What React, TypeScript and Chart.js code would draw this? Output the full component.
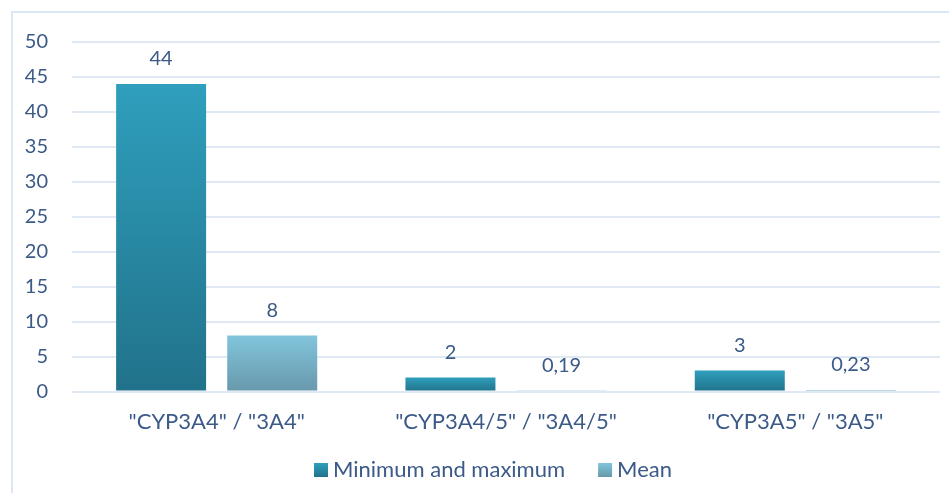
import React, { useEffect, useRef } from "react";
import { Chart, registerables } from "chart.js";

Chart.register(...registerables);

const categories = ['"CYP3A4" / "3A4"', '"CYP3A4/5" / "3A4/5"', '"CYP3A5" / "3A5"'];
const seriesNames = ["Minimum and maximum", "Mean"];
const minMaxValues = [44, 2, 3];
const meanValues = [8, 0.19, 0.23];
const yTicks = [0, 50, 5]; // min, max, step

const TEXT = "#3B5A88";
const GRID = "#DFE8F3";
const FONT = "Lato";
const SERIES_COLORS: [string, string][] = [
  ["#2F9FBD", "#21728A"],
  ["#82C5DC", "#6898AB"],
];

function barGradient(top: string, bottom: string) {
  return (ctx: any) => {
    const chart = ctx.chart;
    const y = chart.scales?.y;
    if (!y || ctx.type !== "data") return top;
    const y1 = y.getPixelForValue(ctx.raw as number);
    const y0 = y.getPixelForValue(0);
    if (!isFinite(y1) || !isFinite(y0) || y0 - y1 < 0.5) return bottom;
    const g = chart.ctx.createLinearGradient(0, y1, 0, y0);
    g.addColorStop(0, top);
    g.addColorStop(1, bottom);
    return g;
  };
}

// Frame around the whole chart
const framePlugin = {
  id: "frame",
  beforeDraw(chart: any) {
    const c = chart.ctx;
    c.save();
    c.strokeStyle = "#DCE7F4";
    c.lineWidth = 2;
    c.strokeRect(12, 12, chart.width + 20, chart.height + 20);
    c.restore();
  },
};

// Value labels above each bar, decimal comma
const valueLabels = {
  id: "valueLabels",
  afterDatasetsDraw(chart: any) {
    const c = chart.ctx;
    c.save();
    c.fillStyle = TEXT;
    c.font = `20px ${FONT}`;
    c.textAlign = "center";
    c.textBaseline = "middle";
    chart.data.datasets.forEach((ds: any, di: number) => {
      const meta = chart.getDatasetMeta(di);
      meta.data.forEach((el: any, i: number) => {
        const text = String(ds.data[i]).replace(".", ",");
        c.fillText(text, el.x, el.y - 25);
      });
    });
    c.restore();
  },
};

// Legend row below the category labels
const legendRow = {
  id: "legendRow",
  afterDraw(chart: any) {
    const c = chart.ctx;
    c.save();
    c.font = `22px ${FONT}`;
    c.textBaseline = "middle";
    const box = 14;
    const gapText = 5;
    const gapItem = 33;
    const widths = seriesNames.map((n) => box + gapText + c.measureText(n).width);
    const total = widths.reduce((a, b) => a + b, 0) + gapItem * (widths.length - 1);
    const center = 493;
    const cy = 470;
    let x = center - total / 2;
    seriesNames.forEach((name, i) => {
      const g = c.createLinearGradient(0, cy - box / 2, 0, cy + box / 2);
      g.addColorStop(0, SERIES_COLORS[i][0]);
      g.addColorStop(1, SERIES_COLORS[i][1]);
      c.fillStyle = g;
      c.fillRect(x, cy - box / 2, box, box);
      c.fillStyle = TEXT;
      c.textAlign = "left";
      c.fillText(name, x + box + gapText, cy);
      x += widths[i] + gapItem;
    });
    c.restore();
  },
};

export default function App() {
  const ref = useRef<HTMLCanvasElement | null>(null);

  useEffect(() => {
    if (!ref.current) return;
    const chart = new Chart(ref.current, {
      type: "bar",
      data: {
        labels: categories,
        datasets: [
          {
            label: seriesNames[0],
            data: minMaxValues,
            backgroundColor: barGradient(SERIES_COLORS[0][0], SERIES_COLORS[0][1]),
          },
          {
            label: seriesNames[1],
            data: meanValues,
            backgroundColor: barGradient(SERIES_COLORS[1][0], SERIES_COLORS[1][1]),
          },
        ],
      },
      options: {
        animation: false,
        responsive: false,
        categoryPercentage: 0.768,
        barPercentage: 0.81,
        layout: { padding: { left: 20, right: 9, top: 42, bottom: 61.5 } },
        plugins: {
          tooltip: { enabled: false },
          legend: { display: false },
        },
        scales: {
          x: {
            grid: { display: false, drawTicks: false },
            border: { display: false },
            ticks: { color: TEXT, font: { family: FONT, size: 22 }, padding: 17, maxRotation: 0 },
            afterFit: (s: any) => {
              s.height = 40;
            },
          },
          y: {
            min: yTicks[0],
            max: yTicks[1],
            ticks: { stepSize: yTicks[2], color: TEXT, font: { family: FONT, size: 20 }, padding: 24 },
            grid: { color: GRID, lineWidth: 2, drawTicks: false },
            border: { display: false },
            afterFit: (s: any) => {
              s.width = 52;
            },
          },
        },
      },
      plugins: [framePlugin, valueLabels, legendRow],
    });
    return () => chart.destroy();
  }, []);

  return (
    <div style={{ position: "fixed", left: 0, top: 0, width: 949, height: 493, background: "#fff" }}>
      <canvas ref={ref} width={949} height={493} />
    </div>
  );
}
